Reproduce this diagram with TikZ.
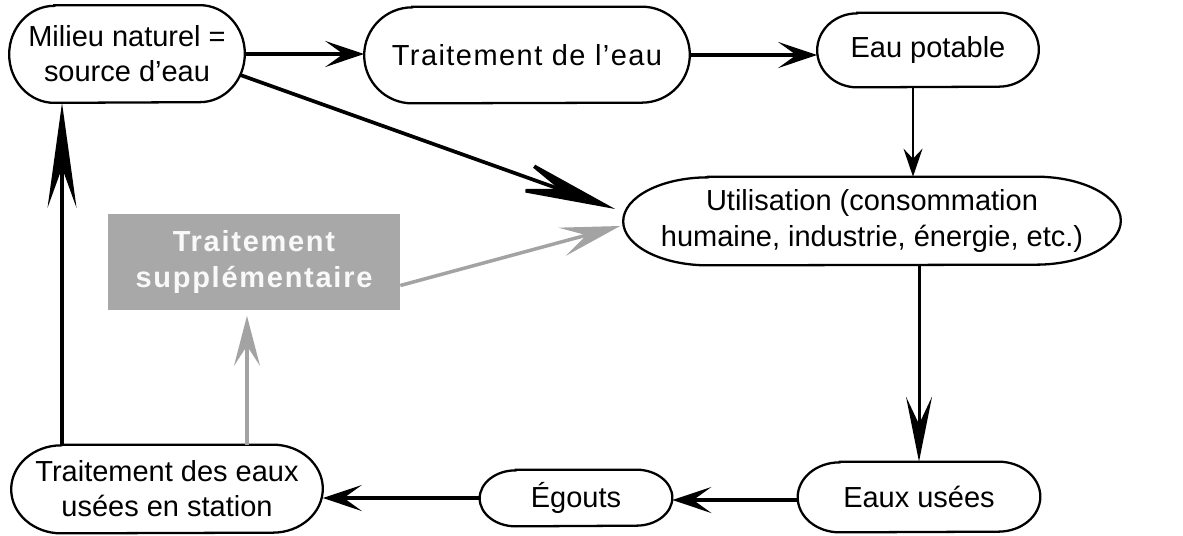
\documentclass[tikz,border=0pt]{standalone}
\usepackage{fontspec}
\setmainfont{Liberation Sans}
\usetikzlibrary{arrows.meta}
\definecolor{suppgray}{HTML}{A8A8A8}
\definecolor{linkgray}{HTML}{A3A3A3}

\begin{document}
\begin{tikzpicture}[x=0.02cm, y=-0.02cm,
	every node/.style={font=\fontsize{16.5}{20}\selectfont, align=center, inner sep=0pt},
	flow/.style={line width=2.1pt, -{Stealth[length=0.78cm, width=0.52cm, inset=0.36cm]}},
	graylink/.style={draw=linkgray, line width=2pt}]

	\useasboundingbox (0,0) rectangle (1183,535);

	% Stages of the water cycle
	\node (milieu) at (127,54) [minimum width=4.7cm, minimum height=1.94cm] {Milieu naturel =\\source d’eau};
	\node (traite) at (527,55) [minimum width=6.5cm, minimum height=1.92cm] {\addfontfeature{LetterSpace=5}Traitement de l’eau};
	\node (potable) at (928,50) [minimum width=4.42cm, minimum height=1.48cm] {Eau potable};
	\node (usage) at (872,221) [minimum width=9.94cm, minimum height=1.76cm] {Utilisation (consommation\\humaine, industrie, énergie, etc.)};
	\node (usees) at (919,497) [minimum width=4.84cm, minimum height=1.4cm] {Eaux usées};
	\node (egouts) at (576,498) [minimum width=3.84cm, minimum height=1.12cm] {Égouts};
	\node (station) at (167,489) [minimum width=6.22cm, minimum height=1.76cm] {Traitement des eaux\\usées en station};

	% Extra treatment
	\node (supp) at (254,262) [fill=suppgray, minimum width=5.84cm, minimum height=1.94cm, text=white!95!gray,
		font=\fontsize{16.5}{20}\selectfont\bfseries\addfontfeature{LetterSpace=6}] {Traitement\\supplémentaire};

	% Outlines with oval ends
	\foreach \n/\rx/\ry in {milieu/45/48.5, traite/48/48, potable/40/37, usage/85/44, usees/42/35, egouts/36/28, station/50/44}{
		\draw [line width=1.3pt] ([xshift=\rx*0.02cm]\n.north west) -- ([xshift=-\rx*0.02cm]\n.north east)
			arc [start angle=90, end angle=-90, x radius=\rx*0.02cm, y radius=\ry*0.02cm]
			-- ([xshift=\rx*0.02cm]\n.south west)
			arc [start angle=270, end angle=90, x radius=\rx*0.02cm, y radius=\ry*0.02cm] -- cycle;
	}

	% Main cycle
	\draw [flow] (milieu.east) -- (milieu.east -| traite.west);
	\draw [flow] (traite.east) -- (traite.east -| potable.west);
	\draw [line width=1.3pt, -{Stealth[length=0.56cm, width=0.38cm, inset=0.2cm]}] ([xshift=-0.3cm]potable.south) -- ([xshift=-0.3cm]potable.south |- usage.north);
	\draw [line width=1.7pt, -{Stealth[length=1.3cm, width=0.52cm, inset=0.55cm]}] (usees.north |- usage.south) -- (usees.north);
	\draw [flow] ([yshift=-0.06cm]usees.west) -- ([yshift=-0.06cm]usees.west -| egouts.east);
	\draw [flow] (egouts.west) -- (egouts.west -| station.east);
	\draw [line width=2.1pt, -{Stealth[length=2.1cm, width=0.58cm, inset=0.8cm]}] ([xshift=-2.1cm]station.north) -- ([xshift=-2.1cm]station.north |- milieu.south);
	\draw [line width=2.1pt, -{Stealth[length=2.2cm, width=0.72cm, inset=1cm]}] ([xshift=-0.09cm, yshift=-0.42cm]milieu.east) -- ([xshift=-0.16cm, yshift=0.24cm]usage.west);

	% Gray links
	\draw [graylink, -{Stealth[length=1.2cm, width=0.58cm, inset=0.5cm]}] ([yshift=-0.47cm]supp.east) -- ([xshift=-0.06cm, yshift=-0.1cm]usage.west);
	\draw [graylink, shorten >=0.1cm, -{Stealth[length=1cm, width=0.52cm, inset=0.4cm]}] ([xshift=1.6cm]station.north) -- ([xshift=1.6cm]station.north |- supp.south);

\end{tikzpicture}
\end{document}
